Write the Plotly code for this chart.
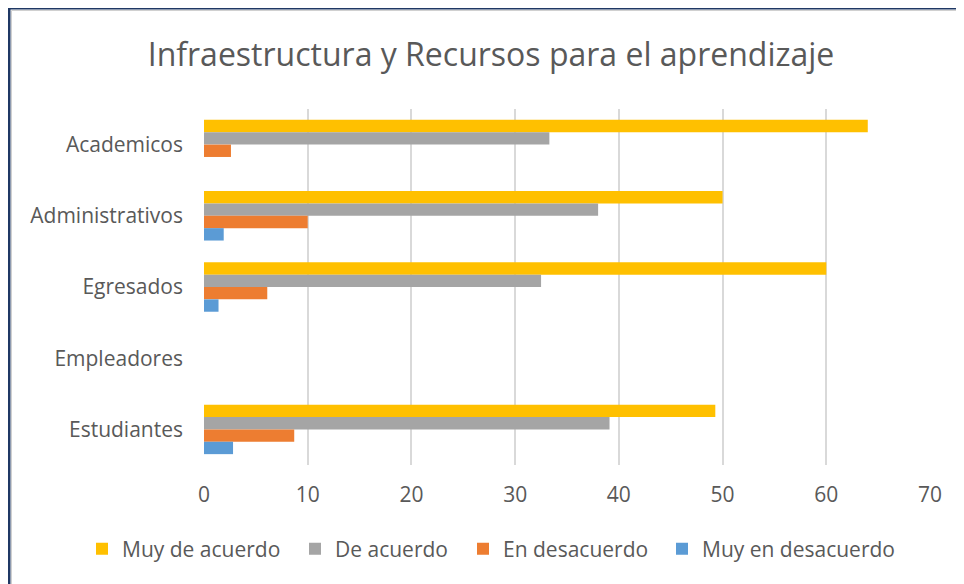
import plotly.graph_objects as go

# Data
categorias = ["Academicos", "Administrativos", "Egresados", "Empleadores", "Estudiantes"]
muy_de_acuerdo = [64.0, 50.0, 60.0, None, 49.3]
de_acuerdo = [33.3, 38.0, 32.5, None, 39.1]
en_desacuerdo = [2.6, 10.0, 6.1, None, 8.7]
muy_en_desacuerdo = [None, 1.9, 1.4, None, 2.8]

series = [
    ("Muy de acuerdo", muy_de_acuerdo, "#FFC000"),
    ("De acuerdo", de_acuerdo, "#A5A5A5"),
    ("En desacuerdo", en_desacuerdo, "#ED7D31"),
    ("Muy en desacuerdo", muy_en_desacuerdo, "#5B9BD5"),
]

# the page body adds an 8px margin, so the figure is 8px smaller than the window
W, H = 956, 576
L, R, T, B = 196, 34, 101, 119
pw, ph = W - L - R, H - T - B

text_color = "#595959"
font_family = "Open Sans, Liberation Sans, sans-serif"

# one legend per series so each entry sits where Excel put it
legend_left_px = [74, 287, 455, 654]
legend_names = ["legend", "legend2", "legend3", "legend4"]

fig = go.Figure()
for (name, vals, color), lg in zip(series, legend_names):
    fig.add_trace(go.Bar(
        y=categorias, x=vals, name=name, orientation="h", legend=lg,
        marker=dict(color=color, line=dict(width=0)),
    ))

legend_y = -(541 - (H - B)) / ph
legend_layout = {}
for lg, lx in zip(legend_names, legend_left_px):
    legend_layout[lg] = dict(
        orientation="h", xref="paper", yref="paper",
        x=(lx - L) / pw, xanchor="left", y=legend_y, yanchor="middle",
        font=dict(size=21, color=text_color, family=font_family),
        bgcolor="rgba(0,0,0,0)",
    )

fig.update_layout(
    width=W, height=H,
    margin=dict(l=L, r=R, t=T, b=B),
    paper_bgcolor="white", plot_bgcolor="white",
    barmode="group", bargap=0.305, bargroupgap=0,
    font=dict(family=font_family, color=text_color, size=21),
    title=dict(
        text="Infraestructura y Recursos para el aprendizaje",
        x=483 / W, xanchor="center", y=1 - 47 / H, yanchor="middle",
        font=dict(size=32, color=text_color, family=font_family),
    ),
    xaxis=dict(
        range=[0, 70], dtick=10, showgrid=True, gridcolor="#D9D9D9", gridwidth=1.5,
        zeroline=False, showline=False, ticks="", ticklabelstandoff=15,
        tickfont=dict(size=21, color=text_color),
    ),
    yaxis=dict(
        autorange="reversed", showgrid=False, zeroline=False, showline=False,
        ticks="", ticklabelstandoff=20, tickfont=dict(size=21, color=text_color),
    ),
    showlegend=True,
    **legend_layout,
)

# Chart frame (navy border visible on top and left, cropped on right and bottom)
def px_to_paper_x(px):
    return (px - L) / pw

def px_to_paper_y(py):
    return 1 - (py - T) / ph

fig.add_shape(type="rect", xref="paper", yref="paper",
              x0=px_to_paper_x(1), x1=px_to_paper_x(W + 20),
              y0=px_to_paper_y(H + 20), y1=px_to_paper_y(0),
              line=dict(color="#1F3864", width=3), layer="below")
fig.add_shape(type="rect", xref="paper", yref="paper",
              x0=px_to_paper_x(3.5), x1=px_to_paper_x(W + 20),
              y0=px_to_paper_y(H + 20), y1=px_to_paper_y(2.5),
              line=dict(color="#D0D0D0", width=1), layer="below")

fig.write_html("out.html")
